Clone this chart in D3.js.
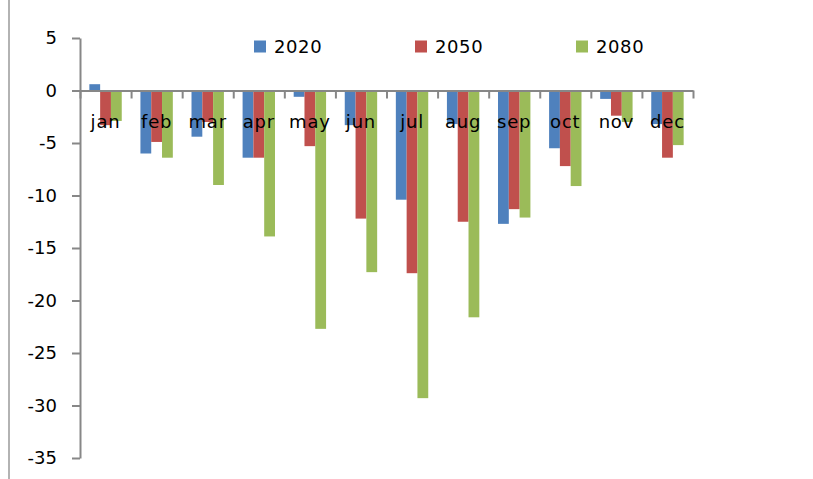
<!DOCTYPE html>
<html>
<head>
<meta charset="utf-8">
<script src="https://d3js.org/d3.v7.min.js"></script>
<style>
body { margin: 0; background: #fff; }
text { font-family: "DejaVu Sans", Verdana, sans-serif; fill: #000; }
</style>
</head>
<body>
<svg width="813" height="479"></svg>
<script>
var months = ['jan', 'feb', 'mar', 'apr', 'may', 'jun', 'jul', 'aug', 'sep', 'oct', 'nov', 'dec'];
var series = ['2020', '2050', '2080'];
var v2020 = [0.6, -6.0, -4.4, -6.4, -0.6, -3.3, -10.4, -3.2, -12.7, -5.5, -0.8, -3.2];
var v2050 = [-3.3, -4.9, -3.0, -6.4, -5.3, -12.2, -17.4, -12.5, -11.3, -7.2, -2.4, -6.4];
var v2080 = [-2.9, -6.4, -9.0, -13.9, -22.7, -17.3, -29.3, -21.6, -12.1, -9.1, -3.0, -5.2];
var yTicks = [5, 0, -5, -10, -15, -20, -25, -30, -35];
var colors = ['#4F81BD', '#C0504D', '#9BBB59'];

function setup()
{
    var svg = d3.select("svg");
    var values = [v2020, v2050, v2080];

    var y = d3.scaleLinear().domain([-35, 5]).range([458, 38]);
    var x0 = d3.scaleBand().domain(months).range([80, 693]);
    var x1 = d3.scaleBand().domain(series).range([0, x0.bandwidth()]).paddingOuter(0.865);
    var xb = d3.scaleLinear().domain([0, 12]).range([80, 693]);

    // chart area left border
    svg.append("line")
        .attr("x1", 9).attr("x2", 9)
        .attr("y1", 0).attr("y2", 479)
        .attr("stroke", "#9a9a9a")
        .attr("stroke-width", 1.5);

    // bars
    var groups = svg.selectAll("g.month")
        .data(months)
        .enter().append("g")
        .attr("class", "month")
        .attr("transform", function(d) { return "translate(" + x0(d) + ",0)"; });

    groups.selectAll("rect")
        .data(function(d, i)
        {
            return series.map(function(s, j) { return { s: s, v: values[j][i], c: colors[j] }; });
        })
        .enter().append("rect")
        .attr("x", function(d) { return x1(d.s); })
        .attr("width", x1.bandwidth())
        .attr("y", function(d) { return y(Math.max(0, d.v)); })
        .attr("height", function(d) { return Math.abs(y(d.v) - y(0)); })
        .attr("fill", function(d) { return d.c; });

    // y axis
    var yAxis = svg.append("g")
        .attr("transform", "translate(80,0)")
        .call(d3.axisLeft(y).tickValues(yTicks).tickSize(8).tickSizeOuter(0)
            .tickPadding(15).tickFormat(function(d) { return String(d); }));

    // x axis at zero, ticks at category boundaries
    var xAxis = svg.append("g")
        .attr("transform", "translate(0," + y(0) + ")")
        .call(d3.axisBottom(xb).ticks(12).tickSize(8).tickSizeOuter(0)
            .tickFormat(function() { return ""; }));

    [yAxis, xAxis].forEach(function(a)
    {
        a.selectAll("path, line").attr("stroke", "#878787").attr("stroke-width", 2);
        a.selectAll("text").attr("font-size", 18).attr("font-family", "DejaVu Sans").attr("fill", "#000");
    });

    // category labels
    svg.selectAll("text.cat")
        .data(months)
        .enter().append("text")
        .attr("class", "cat")
        .attr("x", function(d) { return x0(d) + x0.bandwidth() / 2; })
        .attr("y", 128)
        .attr("text-anchor", "middle")
        .attr("font-size", 18)
        .attr("letter-spacing", 0.8)
        .text(function(d) { return d; });

    // legend
    var legendX = d3.scalePoint().domain(series).range([254, 576]);
    var legend = svg.selectAll("g.legend")
        .data(series)
        .enter().append("g")
        .attr("class", "legend")
        .attr("transform", function(d) { return "translate(" + legendX(d) + ",0)"; });

    legend.append("rect")
        .attr("x", 0).attr("y", 40.5)
        .attr("width", 12).attr("height", 12)
        .attr("fill", function(d, i) { return colors[i]; });

    legend.append("text")
        .attr("x", 20).attr("y", 52.5)
        .attr("font-size", 18)
        .attr("letter-spacing", 0.6)
        .text(function(d) { return d; });
}

setup();
</script>
</body>
</html>
